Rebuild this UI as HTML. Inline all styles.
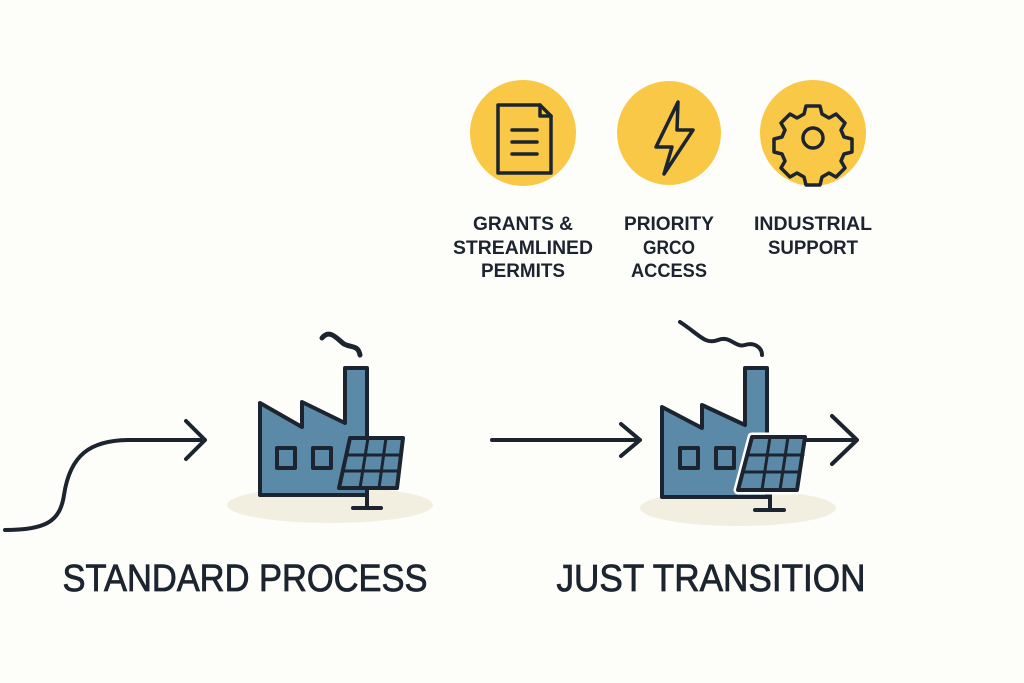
<!DOCTYPE html>
<html><head><style>html,body{margin:0;padding:0;background:#fdfdfa;}svg{display:block}</style></head><body>
<svg width="1024" height="683" viewBox="0 0 1024 683" xmlns="http://www.w3.org/2000/svg">
<rect width="1024" height="683" fill="#fdfdfa"/>
<g fill="#f9c846"><circle cx="523" cy="133" r="53"/><circle cx="669" cy="133" r="52"/><circle cx="813" cy="133" r="53"/></g>
<g fill="none" stroke="#1c2430" stroke-width="3.5" stroke-linejoin="round" stroke-linecap="round">
<path d="M498 105 H540 L551 116 V173 H498 Z"/><path d="M540 105 V116 H551"/>
<path d="M512 130 H537 M512 142 H537 M512 154 H537"/>
<path d="M678 102 L656 147 H672 L664 174 L693 130 H677 Z"/>
<circle cx="813" cy="138" r="10"/>
<path d="M806 106 h14 l2 8 l7 4 l7-4 l9 9 l-4 7 l3 7 l8 2 v13 l-8 2 l-3 7 l4 7 l-9 9 l-7-4 l-7 4 l-2 8 h-14 l-2-8 l-7-4 l-7 4 l-9-9 l4-7 l-3-7 l-8-2 v-13 l8-2 l3-7 l-4-7 l9-9 l7 4 l7-4 Z"/>
</g>
<g font-family="'Liberation Sans',sans-serif" font-weight="bold" font-size="19" fill="#1c2430" text-anchor="middle">
<text x="523" y="230" textLength="100" lengthAdjust="spacingAndGlyphs">GRANTS &amp;</text>
<text x="523" y="254" textLength="140" lengthAdjust="spacingAndGlyphs">STREAMLINED</text>
<text x="523" y="277" textLength="84" lengthAdjust="spacingAndGlyphs">PERMITS</text>
<text x="669" y="230" textLength="90" lengthAdjust="spacingAndGlyphs">PRIORITY</text>
<text x="669" y="254" textLength="52" lengthAdjust="spacingAndGlyphs">GRCO</text>
<text x="669" y="277" textLength="76" lengthAdjust="spacingAndGlyphs">ACCESS</text>
<text x="813" y="230" textLength="118" lengthAdjust="spacingAndGlyphs">INDUSTRIAL</text>
<text x="813" y="254" textLength="90" lengthAdjust="spacingAndGlyphs">SUPPORT</text>
</g>
<ellipse cx="330" cy="505" rx="103" ry="18" fill="#f2efe1"/>
<ellipse cx="738" cy="508" rx="98" ry="18" fill="#f2efe1"/>
<g stroke="#1c2430" stroke-width="4" stroke-linejoin="round" stroke-linecap="round">
<path d="M260 403 L302 427 V402 L345 423 V368 H367 V495 H260 Z" fill="#5a8aa8"/>
<rect x="277" y="448" width="18" height="20" fill="none"/><rect x="313" y="448" width="18" height="20" fill="none"/>
<path d="M322 338 C330 328 338 340 344 344 C352 348 358 345 360 355" fill="none" stroke-width="5"/>
<path d="M367 488 V508 M353 508 H381" fill="none"/>
<path d="M350 438 H403 L397 488 H339 Z" fill="#5a8aa8"/>
<path d="M368 438 L360 488 M386 438 L379 488 M346 455 H401 M343 471 H399" fill="none" stroke-width="3"/>
<path d="M662 407 L702 428 V405 L745 425 V368 H767 V497 H662 Z" fill="#5a8aa8"/>
<rect x="680" y="448" width="18" height="20" fill="none"/><rect x="716" y="448" width="18" height="20" fill="none"/>
<path d="M680 322 C700 335 705 345 718 340 C730 335 735 348 745 345 C755 342 762 348 762 355" fill="none"/>
<path d="M770 490 V510 M755 510 H784" fill="none"/>
<path d="M752 437 H805 L797 490 H738 Z" fill="#5a8aa8" stroke="#fff" stroke-width="9"/>
<path d="M752 437 H805 L797 490 H738 Z" fill="#5a8aa8"/>
<path d="M770 437 L762 490 M788 437 L780 490 M748 455 H803 M745 472 H800" fill="none" stroke-width="3"/>
<path d="M805 440 H856 M832 416 L857 440 L832 464" fill="none"/>
<path d="M5 530 C45 530 60 522 64 495 C70 455 90 440 130 440 H205 M186 421 L205 440 L186 459" fill="none"/>
<path d="M492 440 H640 M621 424 L640 440 L621 456" fill="none"/>
</g>
<g font-family="'Liberation Sans',sans-serif" font-size="38" fill="#1c2430" stroke="#1c2430" stroke-width="0.8" text-anchor="middle">
<text x="245" y="591" textLength="365" lengthAdjust="spacingAndGlyphs">STANDARD PROCESS</text>
<text x="711" y="591" textLength="309" lengthAdjust="spacingAndGlyphs">JUST TRANSITION</text>
</g>
</svg>
</body></html>
